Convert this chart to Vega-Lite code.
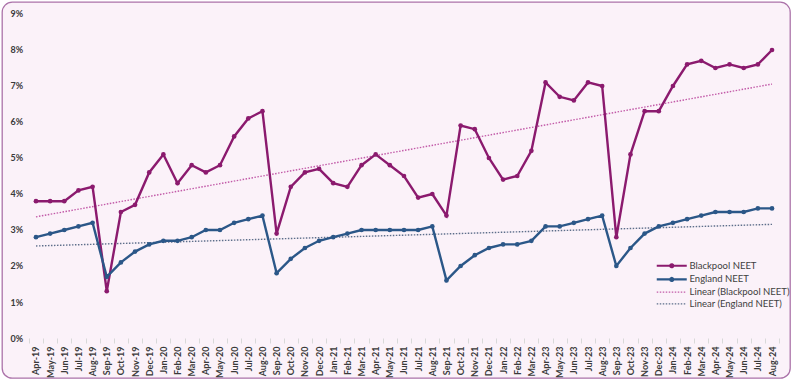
{
  "$schema": "https://vega.github.io/schema/vega-lite/v6.json",
  "autosize": {"type": "none"},
  "padding": {"left": 2, "top": 2, "right": 2, "bottom": 4},
  "width": 788,
  "height": 376,
  "background": "#ffffff",
  "config": {
    "view": {"fill": "#fbf2f9", "stroke": "#ab72a9", "strokeWidth": 1.3, "cornerRadius": 10},
    "font": "Lato"
  },
  "datasets": {
    "neet": [
      {"i": 0, "month": "Apr-19", "Blackpool NEET": 3.8, "England NEET": 2.8},
      {"i": 1, "month": "May-19", "Blackpool NEET": 3.8, "England NEET": 2.9},
      {"i": 2, "month": "Jun-19", "Blackpool NEET": 3.8, "England NEET": 3.0},
      {"i": 3, "month": "Jul-19", "Blackpool NEET": 4.1, "England NEET": 3.1},
      {"i": 4, "month": "Aug-19", "Blackpool NEET": 4.2, "England NEET": 3.2},
      {"i": 5, "month": "Sep-19", "Blackpool NEET": 1.3, "England NEET": 1.7},
      {"i": 6, "month": "Oct-19", "Blackpool NEET": 3.5, "England NEET": 2.1},
      {"i": 7, "month": "Nov-19", "Blackpool NEET": 3.7, "England NEET": 2.4},
      {"i": 8, "month": "Dec-19", "Blackpool NEET": 4.6, "England NEET": 2.6},
      {"i": 9, "month": "Jan-20", "Blackpool NEET": 5.1, "England NEET": 2.7},
      {"i": 10, "month": "Feb-20", "Blackpool NEET": 4.3, "England NEET": 2.7},
      {"i": 11, "month": "Mar-20", "Blackpool NEET": 4.8, "England NEET": 2.8},
      {"i": 12, "month": "Apr-20", "Blackpool NEET": 4.6, "England NEET": 3.0},
      {"i": 13, "month": "May-20", "Blackpool NEET": 4.8, "England NEET": 3.0},
      {"i": 14, "month": "Jun-20", "Blackpool NEET": 5.6, "England NEET": 3.2},
      {"i": 15, "month": "Jul-20", "Blackpool NEET": 6.1, "England NEET": 3.3},
      {"i": 16, "month": "Aug-20", "Blackpool NEET": 6.3, "England NEET": 3.4},
      {"i": 17, "month": "Sep-20", "Blackpool NEET": 2.9, "England NEET": 1.8},
      {"i": 18, "month": "Oct-20", "Blackpool NEET": 4.2, "England NEET": 2.2},
      {"i": 19, "month": "Nov-20", "Blackpool NEET": 4.6, "England NEET": 2.5},
      {"i": 20, "month": "Dec-20", "Blackpool NEET": 4.7, "England NEET": 2.7},
      {"i": 21, "month": "Jan-21", "Blackpool NEET": 4.3, "England NEET": 2.8},
      {"i": 22, "month": "Feb-21", "Blackpool NEET": 4.2, "England NEET": 2.9},
      {"i": 23, "month": "Mar-21", "Blackpool NEET": 4.8, "England NEET": 3.0},
      {"i": 24, "month": "Apr-21", "Blackpool NEET": 5.1, "England NEET": 3.0},
      {"i": 25, "month": "May-21", "Blackpool NEET": 4.8, "England NEET": 3.0},
      {"i": 26, "month": "Jun-21", "Blackpool NEET": 4.5, "England NEET": 3.0},
      {"i": 27, "month": "Jul-21", "Blackpool NEET": 3.9, "England NEET": 3.0},
      {"i": 28, "month": "Aug-21", "Blackpool NEET": 4.0, "England NEET": 3.1},
      {"i": 29, "month": "Sep-21", "Blackpool NEET": 3.4, "England NEET": 1.6},
      {"i": 30, "month": "Oct-21", "Blackpool NEET": 5.9, "England NEET": 2.0},
      {"i": 31, "month": "Nov-21", "Blackpool NEET": 5.8, "England NEET": 2.3},
      {"i": 32, "month": "Dec-21", "Blackpool NEET": 5.0, "England NEET": 2.5},
      {"i": 33, "month": "Jan-22", "Blackpool NEET": 4.4, "England NEET": 2.6},
      {"i": 34, "month": "Feb-22", "Blackpool NEET": 4.5, "England NEET": 2.6},
      {"i": 35, "month": "Mar-22", "Blackpool NEET": 5.2, "England NEET": 2.7},
      {"i": 36, "month": "Apr-23", "Blackpool NEET": 7.1, "England NEET": 3.1},
      {"i": 37, "month": "May-23", "Blackpool NEET": 6.7, "England NEET": 3.1},
      {"i": 38, "month": "Jun-23", "Blackpool NEET": 6.6, "England NEET": 3.2},
      {"i": 39, "month": "Jul-23", "Blackpool NEET": 7.1, "England NEET": 3.3},
      {"i": 40, "month": "Aug-23", "Blackpool NEET": 7.0, "England NEET": 3.4},
      {"i": 41, "month": "Sep-23", "Blackpool NEET": 2.8, "England NEET": 2.0},
      {"i": 42, "month": "Oct-23", "Blackpool NEET": 5.1, "England NEET": 2.5},
      {"i": 43, "month": "Nov-23", "Blackpool NEET": 6.3, "England NEET": 2.9},
      {"i": 44, "month": "Dec-23", "Blackpool NEET": 6.3, "England NEET": 3.1},
      {"i": 45, "month": "Jan-24", "Blackpool NEET": 7.0, "England NEET": 3.2},
      {"i": 46, "month": "Feb-24", "Blackpool NEET": 7.6, "England NEET": 3.3},
      {"i": 47, "month": "Mar-24", "Blackpool NEET": 7.7, "England NEET": 3.4},
      {"i": 48, "month": "Apr-24", "Blackpool NEET": 7.5, "England NEET": 3.5},
      {"i": 49, "month": "May-24", "Blackpool NEET": 7.6, "England NEET": 3.5},
      {"i": 50, "month": "Jun-24", "Blackpool NEET": 7.5, "England NEET": 3.5},
      {"i": 51, "month": "Jul-24", "Blackpool NEET": 7.6, "England NEET": 3.6},
      {"i": 52, "month": "Aug-24", "Blackpool NEET": 8.0, "England NEET": 3.6}
    ],
    "grid": [
      {"value": 0}, {"value": 1}, {"value": 2}, {"value": 3}, {"value": 4},
      {"value": 5}, {"value": 6}, {"value": 7}, {"value": 8}, {"value": 9}
    ]
  },
  "data": {"name": "neet"},
  "encoding": {
    "x": {
      "field": "i",
      "type": "quantitative",
      "scale": {"domain": [-2.40, 53.27], "nice": false, "zero": false},
      "axis": {
        "title": null,
        "orient": "bottom",
        "offset": -40,
        "values": [-1, 0, 1, 2, 3, 4, 5, 6, 7, 8, 9, 10, 11, 12, 13, 14, 15, 16, 17, 18, 19, 20, 21, 22, 23, 24, 25, 26, 27, 28, 29, 30, 31, 32, 33, 34, 35, 36, 37, 38, 39, 40, 41, 42, 43, 44, 45, 46, 47, 48, 49, 50, 51, 52],
        "labelExpr": "datum.value < 0 ? '' : ['Apr-19','May-19','Jun-19','Jul-19','Aug-19','Sep-19','Oct-19','Nov-19','Dec-19','Jan-20','Feb-20','Mar-20','Apr-20','May-20','Jun-20','Jul-20','Aug-20','Sep-20','Oct-20','Nov-20','Dec-20','Jan-21','Feb-21','Mar-21','Apr-21','May-21','Jun-21','Jul-21','Aug-21','Sep-21','Oct-21','Nov-21','Dec-21','Jan-22','Feb-22','Mar-22','Apr-23','May-23','Jun-23','Jul-23','Aug-23','Sep-23','Oct-23','Nov-23','Dec-23','Jan-24','Feb-24','Mar-24','Apr-24','May-24','Jun-24','Jul-24','Aug-24'][datum.value]",
        "tickOffset": 7.08,
        "labelOffset": -7.08,
        "labelAngle": -90,
        "labelAlign": "right",
        "labelBaseline": "middle",
        "labelPadding": 3,
        "labelFontSize": 9,
        "labelFontWeight": "bold",
        "labelColor": "#3a3a3a",
        "labelFont": "Lato",
        "labelOverlap": false,
        "labelBound": false,
        "labelFlush": false,
        "grid": false,
        "domain": false,
        "ticks": true,
        "tickSize": 5,
        "tickColor": "#d9d9d9"
      }
    },
    "y": {
      "field": "value",
      "type": "quantitative",
      "scale": {"domain": [-1.111, 9.333], "nice": false, "zero": false},
      "axis": {
        "title": null,
        "values": [0, 1, 2, 3, 4, 5, 6, 7, 8, 9],
        "labelExpr": "datum.value + '%'",
        "labelAlign": "left",
        "labelBaseline": "middle",
        "labelPadding": -8,
        "labelFontSize": 9,
        "labelFontWeight": "bold",
        "labelColor": "#3a3a3a",
        "labelFont": "Lato",
        "grid": false,
        "domain": false,
        "ticks": false
      }
    },
    "color": {
      "field": "label", "type": "nominal",
      "scale": {"domain": ["Blackpool NEET", "England NEET", "Linear (Blackpool NEET)", "Linear (England NEET)"], "range": ["#8b1a6e", "#2b5788", "#c25aa8", "#5d6e8a"]},
      "legend": {
        "title": null,
        "orient": "none",
        "legendX": 665,
        "legendY": 259,
        "padding": 0,
        "symbolType": "stroke",
        "symbolSize": 225,
        "symbolStrokeWidth": 2.2,
        "labelOffset": 13,
        "labelFontSize": 9.5,
        "labelColor": "#404040",
        "labelFont": "Lato",
        "rowPadding": 0.7,
        "encode": {
          "symbols": {
            "update": {
              "shape": {"signal": "test(/Linear/, datum.value) ? 'M-2,0L2,0' : 'M-2,0L2,0M-0.2,0A0.2,0.2,0,1,0,0.2,0A0.2,0.2,0,1,0,-0.2,0Z'"},
              "strokeDash": {"signal": "test(/Linear/, datum.value) ? [1.5,1.5] : [1,0]"},
              "strokeWidth": {"signal": "test(/Linear/, datum.value) ? 1.3 : 2.2"},
              "fill": {"signal": "test(/Linear/, datum.value) ? 'transparent' : (datum.value == 'Blackpool NEET' ? '#8b1a6e' : '#2b5788')"}
            }
          }
        }
      }
    }
  },
  "layer": [
    {
      "data": {"name": "grid"},
      "mark": {"type": "rule", "color": "#dcd6da", "strokeWidth": 1},
      "encoding": {
        "x": {"datum": -0.5},
        "x2": {"datum": 52.5},
        "color": {"value": "#dcd6da"}
      }
    },
    {
      "transform": [
        {"fold": ["Blackpool NEET", "England NEET"], "as": ["series", "value"]},
        {"regression": "value", "on": "i", "groupby": ["series"], "method": "linear", "extent": [0, 52]},
        {"calculate": "'Linear (' + datum.series + ')'", "as": "label"}
      ],
      "mark": {"type": "line", "strokeWidth": 1.4, "strokeDash": [1.5, 1.5]}
    },
    {
      "transform": [
        {"fold": ["Blackpool NEET", "England NEET"], "as": ["label", "value"]}
      ],
      "mark": {"type": "line", "strokeWidth": 2.4, "point": {"filled": true, "size": 22}}
    }
  ]
}
